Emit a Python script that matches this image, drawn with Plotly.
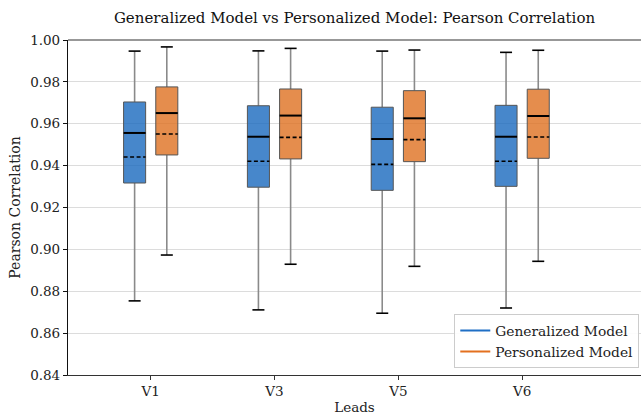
import plotly.graph_objects as go

leads = ["V1", "V3", "V5", "V6"]

gen_upper  = [0.9947, 0.9948, 0.9947, 0.9941]
gen_q3     = [0.9704, 0.9686, 0.9679, 0.9688]
gen_median = [0.9556, 0.9538, 0.9527, 0.9538]
gen_mean   = [0.9441, 0.9421, 0.9406, 0.9421]
gen_q1     = [0.9317, 0.9297, 0.9282, 0.9301]
gen_lower  = [0.8754, 0.8711, 0.8695, 0.8720]

per_upper  = [0.9967, 0.9960, 0.9952, 0.9951]
per_q3     = [0.9776, 0.9766, 0.9758, 0.9765]
per_median = [0.9651, 0.9639, 0.9626, 0.9637]
per_mean   = [0.9551, 0.9535, 0.9524, 0.9537]
per_q1     = [0.9451, 0.9432, 0.9419, 0.9435]
per_lower  = [0.8973, 0.8929, 0.8919, 0.8943]

FONT = "DejaVu Serif"
OFFSET = 0.13
BOXW = 0.178
CAPW = 0.097

fig = go.Figure()


def add_group(centers_off, upper, q3, med, mean, q1, lower, fill):
    pos = [i + 1 + centers_off for i in range(len(leads))]
    hw = BOXW / 2
    cw = CAPW / 2
    # whiskers
    wx, wy = [], []
    for p, u, a, b, l in zip(pos, upper, q3, q1, lower):
        wx += [p, p, None, p, p, None]
        wy += [a, u, None, b, l, None]
    fig.add_trace(go.Scatter(x=wx, y=wy, mode="lines", line=dict(color="#8a8a8a", width=1.6),
                             showlegend=False, hoverinfo="skip"))
    # boxes
    bx, by = [], []
    for p, a, b in zip(pos, q3, q1):
        bx += [p - hw, p + hw, p + hw, p - hw, p - hw, None]
        by += [b, b, a, a, b, None]
    fig.add_trace(go.Scatter(x=bx, y=by, mode="lines", fill="toself", fillcolor=fill,
                             line=dict(color="#555555", width=1), showlegend=False, hoverinfo="skip"))
    # caps
    cx, cy = [], []
    for p, u, l in zip(pos, upper, lower):
        cx += [p - cw, p + cw, None, p - cw, p + cw, None]
        cy += [u, u, None, l, l, None]
    fig.add_trace(go.Scatter(x=cx, y=cy, mode="lines", line=dict(color="black", width=1.6),
                             showlegend=False, hoverinfo="skip"))
    # medians
    mx, my = [], []
    for p, m in zip(pos, med):
        mx += [p - hw, p + hw, None]
        my += [m, m, None]
    fig.add_trace(go.Scatter(x=mx, y=my, mode="lines", line=dict(color="black", width=2),
                             showlegend=False, hoverinfo="skip"))
    # means
    ex, ey = [], []
    for p, m in zip(pos, mean):
        ex += [p - hw, p + hw, None]
        ey += [m, m, None]
    fig.add_trace(go.Scatter(x=ex, y=ey, mode="lines", line=dict(color="black", width=1.6, dash="4px,2.5px"),
                             showlegend=False, hoverinfo="skip"))


add_group(-OFFSET, gen_upper, gen_q3, gen_median, gen_mean, gen_q1, gen_lower, "rgba(25,105,190,0.8)")
add_group(OFFSET, per_upper, per_q3, per_median, per_mean, per_q1, per_lower, "rgba(222,112,32,0.8)")

fig.add_trace(go.Scatter(x=[None], y=[None], mode="lines", name="Generalized Model",
                         line=dict(color="#1f6fc5", width=2)))
fig.add_trace(go.Scatter(x=[None], y=[None], mode="lines", name="Personalized Model",
                         line=dict(color="#e3701f", width=2)))

fig.update_layout(
    width=641, height=415,
    margin=dict(l=68, r=0, t=40, b=40),
    paper_bgcolor="white", plot_bgcolor="white",
    font=dict(family=FONT, size=13, color="#222"),
    title=dict(text="Generalized Model vs Personalized Model: Pearson Correlation",
               x=(68 + 641) / 2 / 641, xanchor="center", y=1 - 18 / 415, yanchor="middle",
               yref="container", xref="container",
               font=dict(family=FONT, size=15, color="#111")),
    xaxis=dict(range=[0.332, 4.96], tickmode="array", tickvals=[1, 2, 3, 4], ticktext=leads,
               showgrid=False, zeroline=False, showline=True, linecolor="#333", linewidth=1.2,
               ticks="outside", ticklen=4, tickcolor="#333",
               title=dict(text="Leads", font=dict(family=FONT, size=13.5), standoff=4),
               tickfont=dict(family=FONT, size=13.5)),
    yaxis=dict(range=[0.84, 1.0], tickmode="array",
               tickvals=[0.84, 0.86, 0.88, 0.90, 0.92, 0.94, 0.96, 0.98, 1.00],
               tickformat=".2f", showgrid=True, gridcolor="#dcdcdc", gridwidth=1,
               zeroline=False, showline=True, linecolor="#111", linewidth=1.2,
               ticks="outside", ticklen=4, tickcolor="#111",
               title=dict(text="Pearson Correlation", font=dict(family=FONT, size=14), standoff=6),
               tickfont=dict(family=FONT, size=13.5)),
    legend=dict(x=0.997, y=0.021, xanchor="right", yanchor="bottom",
                bgcolor="rgba(255,255,255,0.9)", bordercolor="#cccccc", borderwidth=1,
                font=dict(family=FONT, size=13.8), itemwidth=30, tracegroupgap=0),
    shapes=[dict(type="line", xref="paper", yref="paper", x0=0, x1=1, y0=1, y1=1,
                 line=dict(color="#333", width=1.2))],
)

fig.write_html("out.html", config={"displayModeBar": False},
               post_script="document.body.style.margin='0';document.body.style.overflow='hidden';")
